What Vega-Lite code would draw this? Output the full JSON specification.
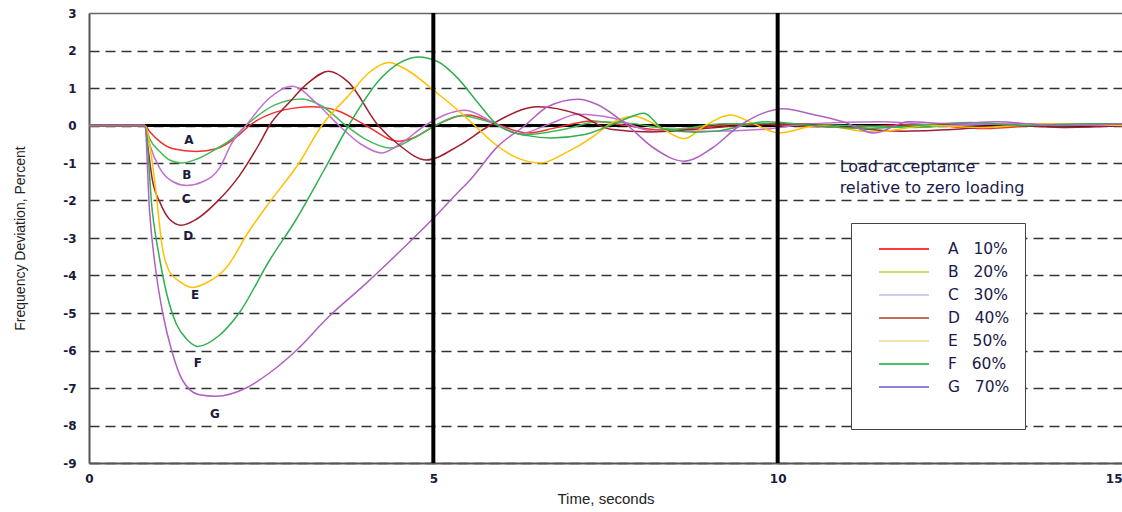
{
  "$schema": "https://vega.github.io/schema/vega-lite/v6.json",
  "width": 1033,
  "height": 450,
  "autosize": {"type": "none"},
  "padding": {"left": 89, "top": 13, "right": 0, "bottom": 49},
  "background": "white",
  "config": {
    "view": {"stroke": null},
    "axis": {"ticks": false, "domainColor": "#555555", "domainWidth": 2, "labelFont": "DejaVu Sans", "labelFontWeight": "bold", "labelFontSize": 12, "labelColor": "#1a1a3a", "titleFont": "Liberation Sans", "titleFontWeight": "normal", "titleColor": "#222222"},
    "legend": {"orient": "none", "legendX": 762, "legendY": 210}
  },
  "datasets": {
    "curves": [
      {"series":"A","t":0,"v":0},{"series":"A","t":0.81,"v":0},{"series":"A","t":0.88,"v":-0.16},{"series":"A","t":1.03,"v":-0.43},{"series":"A","t":1.22,"v":-0.62},{"series":"A","t":1.56,"v":-0.69},{"series":"A","t":1.85,"v":-0.62},{"series":"A","t":2.18,"v":-0.25},{"series":"A","t":2.33,"v":0},{"series":"A","t":2.7,"v":0.35},{"series":"A","t":3.0,"v":0.47},{"series":"A","t":3.24,"v":0.5},{"series":"A","t":3.5,"v":0.45},{"series":"A","t":3.63,"v":0.38},{"series":"A","t":4.02,"v":0},{"series":"A","t":4.49,"v":-0.42},{"series":"A","t":4.75,"v":-0.3},{"series":"A","t":5.03,"v":0},{"series":"A","t":5.5,"v":0.28},{"series":"A","t":5.9,"v":0.05},{"series":"A","t":6.37,"v":-0.2},{"series":"A","t":6.8,"v":-0.05},{"series":"A","t":7.3,"v":0.12},{"series":"A","t":7.8,"v":0},{"series":"A","t":8.3,"v":-0.12},{"series":"A","t":8.9,"v":-0.05},{"series":"A","t":9.5,"v":0.05},{"series":"A","t":10.2,"v":0},{"series":"A","t":11,"v":-0.05},{"series":"A","t":12,"v":0.03},{"series":"A","t":13,"v":-0.08},{"series":"A","t":14,"v":0.02},{"series":"A","t":15,"v":0},
      {"series":"B","t":0,"v":0},{"series":"B","t":0.81,"v":0},{"series":"B","t":0.88,"v":-0.35},{"series":"B","t":1.03,"v":-0.7},{"series":"B","t":1.17,"v":-0.92},{"series":"B","t":1.34,"v":-1.0},{"series":"B","t":1.56,"v":-0.9},{"series":"B","t":1.85,"v":-0.62},{"series":"B","t":2.08,"v":-0.35},{"series":"B","t":2.28,"v":0},{"series":"B","t":2.7,"v":0.55},{"series":"B","t":3.09,"v":0.71},{"series":"B","t":3.4,"v":0.5},{"series":"B","t":3.73,"v":0},{"series":"B","t":4.0,"v":-0.35},{"series":"B","t":4.38,"v":-0.6},{"series":"B","t":4.7,"v":-0.35},{"series":"B","t":5.03,"v":0},{"series":"B","t":5.4,"v":0.26},{"series":"B","t":5.8,"v":0.1},{"series":"B","t":6.33,"v":-0.25},{"series":"B","t":6.9,"v":-0.1},{"series":"B","t":7.4,"v":0.1},{"series":"B","t":7.9,"v":0.05},{"series":"B","t":8.5,"v":-0.1},{"series":"B","t":9.2,"v":0.05},{"series":"B","t":10,"v":0.05},{"series":"B","t":11,"v":0},{"series":"B","t":12,"v":-0.05},{"series":"B","t":13,"v":0.05},{"series":"B","t":14,"v":0},{"series":"B","t":15,"v":0.05},
      {"series":"C","t":0,"v":0},{"series":"C","t":0.81,"v":0},{"series":"C","t":0.88,"v":-0.5},{"series":"C","t":1.03,"v":-1.15},{"series":"C","t":1.22,"v":-1.5},{"series":"C","t":1.42,"v":-1.6},{"series":"C","t":1.65,"v":-1.5},{"series":"C","t":1.89,"v":-1.15},{"series":"C","t":2.08,"v":-0.45},{"series":"C","t":2.28,"v":0},{"series":"C","t":2.6,"v":0.7},{"series":"C","t":2.95,"v":1.05},{"series":"C","t":3.3,"v":0.6},{"series":"C","t":3.63,"v":0},{"series":"C","t":3.95,"v":-0.5},{"series":"C","t":4.25,"v":-0.73},{"series":"C","t":4.55,"v":-0.45},{"series":"C","t":4.88,"v":0},{"series":"C","t":5.46,"v":0.41},{"series":"C","t":5.9,"v":0.05},{"series":"C","t":6.25,"v":-0.22},{"series":"C","t":6.7,"v":0.05},{"series":"C","t":7.1,"v":0.3},{"series":"C","t":7.6,"v":0.2},{"series":"C","t":8.2,"v":-0.15},{"series":"C","t":9,"v":-0.15},{"series":"C","t":9.8,"v":-0.1},{"series":"C","t":10.5,"v":0.05},{"series":"C","t":11.5,"v":0.1},{"series":"C","t":12.5,"v":0},{"series":"C","t":13.5,"v":0.05},{"series":"C","t":15,"v":0},
      {"series":"D","t":0,"v":0},{"series":"D","t":0.81,"v":0},{"series":"D","t":0.85,"v":-0.5},{"series":"D","t":0.92,"v":-1.45},{"series":"D","t":1.03,"v":-2.05},{"series":"D","t":1.17,"v":-2.5},{"series":"D","t":1.34,"v":-2.66},{"series":"D","t":1.56,"v":-2.5},{"series":"D","t":1.85,"v":-2.05},{"series":"D","t":2.18,"v":-1.35},{"series":"D","t":2.47,"v":-0.5},{"series":"D","t":2.62,"v":0},{"series":"D","t":2.9,"v":0.6},{"series":"D","t":3.19,"v":1.15},{"series":"D","t":3.48,"v":1.45},{"series":"D","t":3.77,"v":1.15},{"series":"D","t":4.2,"v":0},{"series":"D","t":4.49,"v":-0.5},{"series":"D","t":4.9,"v":-0.92},{"series":"D","t":5.36,"v":-0.55},{"series":"D","t":5.82,"v":0},{"series":"D","t":6.52,"v":0.5},{"series":"D","t":7.1,"v":0.3},{"series":"D","t":7.57,"v":-0.1},{"series":"D","t":8.15,"v":-0.17},{"series":"D","t":8.8,"v":-0.1},{"series":"D","t":9.5,"v":0},{"series":"D","t":10.2,"v":0.05},{"series":"D","t":11,"v":-0.05},{"series":"D","t":11.8,"v":-0.15},{"series":"D","t":12.6,"v":-0.1},{"series":"D","t":13.4,"v":0},{"series":"D","t":14.2,"v":-0.05},{"series":"D","t":15,"v":0},
      {"series":"E","t":0,"v":0},{"series":"E","t":0.81,"v":0},{"series":"E","t":0.92,"v":-1.0},{"series":"E","t":0.98,"v":-1.9},{"series":"E","t":1.06,"v":-3.2},{"series":"E","t":1.17,"v":-3.9},{"series":"E","t":1.31,"v":-4.15},{"series":"E","t":1.5,"v":-4.32},{"series":"E","t":1.7,"v":-4.2},{"series":"E","t":1.99,"v":-3.8},{"series":"E","t":2.33,"v":-2.8},{"series":"E","t":2.62,"v":-2.05},{"series":"E","t":3.05,"v":-1.0},{"series":"E","t":3.38,"v":0},{"series":"E","t":3.77,"v":0.8},{"series":"E","t":4.06,"v":1.4},{"series":"E","t":4.35,"v":1.68},{"series":"E","t":4.6,"v":1.5},{"series":"E","t":5.03,"v":0.9},{"series":"E","t":5.36,"v":0.4},{"series":"E","t":5.6,"v":0},{"series":"E","t":5.9,"v":-0.5},{"series":"E","t":6.2,"v":-0.85},{"series":"E","t":6.56,"v":-1.0},{"series":"E","t":6.9,"v":-0.75},{"series":"E","t":7.34,"v":-0.27},{"series":"E","t":7.53,"v":0},{"series":"E","t":7.92,"v":0.25},{"series":"E","t":8.25,"v":0},{"series":"E","t":8.64,"v":-0.35},{"series":"E","t":8.95,"v":0},{"series":"E","t":9.31,"v":0.28},{"series":"E","t":9.65,"v":0.05},{"series":"E","t":10.01,"v":-0.2},{"series":"E","t":10.6,"v":0},{"series":"E","t":11.4,"v":-0.17},{"series":"E","t":12.2,"v":0},{"series":"E","t":13,"v":-0.05},{"series":"E","t":14,"v":0.05},{"series":"E","t":15,"v":0},
      {"series":"F","t":0,"v":0},{"series":"F","t":0.81,"v":0},{"series":"F","t":0.92,"v":-2.3},{"series":"F","t":1.03,"v":-3.6},{"series":"F","t":1.13,"v":-4.5},{"series":"F","t":1.27,"v":-5.3},{"series":"F","t":1.42,"v":-5.7},{"series":"F","t":1.58,"v":-5.89},{"series":"F","t":1.89,"v":-5.6},{"series":"F","t":2.18,"v":-5.0},{"series":"F","t":2.62,"v":-3.6},{"series":"F","t":3.01,"v":-2.5},{"series":"F","t":3.41,"v":-1.2},{"series":"F","t":3.77,"v":0},{"series":"F","t":4.21,"v":1.2},{"series":"F","t":4.49,"v":1.65},{"series":"F","t":4.78,"v":1.83},{"series":"F","t":5.07,"v":1.7},{"series":"F","t":5.36,"v":1.25},{"series":"F","t":5.65,"v":0.6},{"series":"F","t":5.94,"v":0},{"series":"F","t":6.37,"v":-0.27},{"series":"F","t":6.71,"v":-0.33},{"series":"F","t":7.2,"v":-0.24},{"series":"F","t":7.67,"v":0.08},{"series":"F","t":8.06,"v":0.33},{"series":"F","t":8.35,"v":-0.1},{"series":"F","t":8.8,"v":-0.18},{"series":"F","t":9.12,"v":-0.15},{"series":"F","t":9.84,"v":0.1},{"series":"F","t":10.5,"v":0},{"series":"F","t":11.3,"v":-0.08},{"series":"F","t":12,"v":0},{"series":"F","t":12.8,"v":0.08},{"series":"F","t":13.6,"v":0},{"series":"F","t":14.5,"v":0.05},{"series":"F","t":15,"v":0.05},
      {"series":"G","t":0,"v":0},{"series":"G","t":0.81,"v":0},{"series":"G","t":0.88,"v":-2.3},{"series":"G","t":0.98,"v":-4.0},{"series":"G","t":1.07,"v":-5.0},{"series":"G","t":1.2,"v":-6.0},{"series":"G","t":1.36,"v":-6.8},{"series":"G","t":1.6,"v":-7.18},{"series":"G","t":1.85,"v":-7.22},{"series":"G","t":2.28,"v":-7.0},{"series":"G","t":2.62,"v":-6.6},{"series":"G","t":3.01,"v":-6.0},{"series":"G","t":3.48,"v":-5.1},{"series":"G","t":4.0,"v":-4.25},{"series":"G","t":4.49,"v":-3.4},{"series":"G","t":5.04,"v":-2.4},{"series":"G","t":5.36,"v":-1.78},{"series":"G","t":5.51,"v":-1.5},{"series":"G","t":5.94,"v":-0.55},{"series":"G","t":6.33,"v":0},{"series":"G","t":6.66,"v":0.5},{"series":"G","t":7.1,"v":0.7},{"series":"G","t":7.38,"v":0.56},{"series":"G","t":7.82,"v":0},{"series":"G","t":8.2,"v":-0.6},{"series":"G","t":8.64,"v":-0.95},{"series":"G","t":9.05,"v":-0.6},{"series":"G","t":9.45,"v":0},{"series":"G","t":10.09,"v":0.45},{"series":"G","t":10.5,"v":0.3},{"series":"G","t":10.95,"v":0.1},{"series":"G","t":11.4,"v":-0.2},{"series":"G","t":11.9,"v":0.1},{"series":"G","t":12.5,"v":0.05},{"series":"G","t":13.2,"v":0.1},{"series":"G","t":14,"v":0},{"series":"G","t":15,"v":0.05}
    ],
    "labels": [
      {"label":"A","t":1.45,"v":-0.39},{"label":"B","t":1.42,"v":-1.32},{"label":"C","t":1.41,"v":-1.95},{"label":"D","t":1.44,"v":-2.95},{"label":"E","t":1.54,"v":-4.53},{"label":"F","t":1.58,"v":-6.34},{"label":"G","t":1.83,"v":-7.68}
    ],
    "notes": [
      {"note":"Load acceptance","t":10.9,"v":-1.11},{"note":"relative to zero loading","t":10.9,"v":-1.67}
    ],
    "verticals": [{"t":5},{"t":10}],
    "zero": [{"v":0}]
  },
  "layer": [
    {
      "data": {"name": "zero"},
      "mark": {"type": "rule", "color": "black", "strokeWidth": 3},
      "encoding": {
        "y": {"field": "v", "type": "quantitative", "scale": {"domain": [-9, 3], "nice": false},
          "axis": {"title": "Frequency Deviation, Percent", "values": [-9,-8,-7,-6,-5,-4,-3,-2,-1,0,1,2,3], "tickCount": 20, "labelOverlap": false, "labelExpr": "toString(datum.value)", "grid": true,
            "gridColor": {"condition": {"test": "datum.value == 3", "value": "#666666"}, "value": "#333333"},
            "gridDash": {"condition": {"test": "datum.value == 3", "value": []}, "value": [10, 6]},
            "gridWidth": 1.6, "labelPadding": 13, "titlePadding": 35, "titleFontSize": 14}}
      }
    },
    {
      "data": {"name": "curves"},
      "mark": {"type": "line", "strokeWidth": 1.5, "interpolate": "monotone", "opacity": 0},
      "encoding": {
        "x": {"field": "t", "type": "quantitative", "scale": {"domain": [0, 15], "nice": false},
          "axis": {"title": "Time, seconds", "values": [0, 5, 10, 15], "tickCount": 20, "labelExpr": "toString(datum.value)", "grid": false, "labelPadding": 10, "titlePadding": 7, "titleFontSize": 15,
            "labelAlign": {"condition": {"test": "datum.value == 15", "value": "right"}, "value": "center"}}},
        "y": {"field": "v", "type": "quantitative"},
        "color": {"field": "series", "type": "nominal",
          "scale": {"domain": ["A","B","C","D","E","F","G"], "range": ["#ff3b3b","#c8e064","#d0ccf0","#c0705a","#f2e2b2","#4cc070","#9080e0"]},
          "legend": {
            "title": "\u00a0", "titleOrient": "bottom", "titleFontSize": 14, "titlePadding": 4,
            "padding": 15, "strokeColor": "#444444", "fillColor": "white",
            "symbolType": "M-2.5,0H2.5", "symbolSize": 400, "symbolStrokeWidth": 2, "symbolOffset": 27, "symbolOpacity": 1,
            "labelOffset": 33, "labelFont": "DejaVu Sans", "labelFontSize": 15.5, "labelColor": "#1a1a4a", "labelLimit": 300,
            "rowPadding": 3,
            "labelExpr": "datum.label + '\u00a0\u00a0\u00a0' + ['10%','20%','30%','40%','50%','60%','70%'][indexof(['A','B','C','D','E','F','G'], datum.label)]"
          }
        }
      }
    },
    {
      "data": {"name": "curves"},
      "mark": {"type": "line", "strokeWidth": 1.5, "interpolate": "monotone"},
      "encoding": {
        "x": {"field": "t", "type": "quantitative"},
        "y": {"field": "v", "type": "quantitative"},
        "stroke": {"field": "series", "type": "nominal", "legend": null,
          "scale": {"domain": ["A","B","C","D","E","F","G"], "range": ["#f03030","#44bb55","#c070d0","#a01f2f","#ffc000","#30b050","#b060c0"]}}
      }
    },
    {
      "data": {"name": "verticals"},
      "mark": {"type": "rule", "color": "black", "strokeWidth": 4},
      "encoding": {
        "x": {"field": "t", "type": "quantitative"}
      }
    },
    {
      "data": {"name": "labels"},
      "mark": {"type": "text", "font": "DejaVu Sans", "fontWeight": "bold", "fontSize": 12, "color": "#1a1a3a", "align": "center", "baseline": "middle"},
      "encoding": {
        "x": {"field": "t", "type": "quantitative"},
        "y": {"field": "v", "type": "quantitative"},
        "text": {"field": "label", "type": "nominal"}
      }
    },
    {
      "data": {"name": "notes"},
      "mark": {"type": "text", "font": "DejaVu Sans", "fontSize": 16, "color": "#1a1a4a", "align": "left", "baseline": "middle"},
      "encoding": {
        "x": {"field": "t", "type": "quantitative"},
        "y": {"field": "v", "type": "quantitative"},
        "text": {"field": "note", "type": "nominal"}
      }
    }
  ]
}
